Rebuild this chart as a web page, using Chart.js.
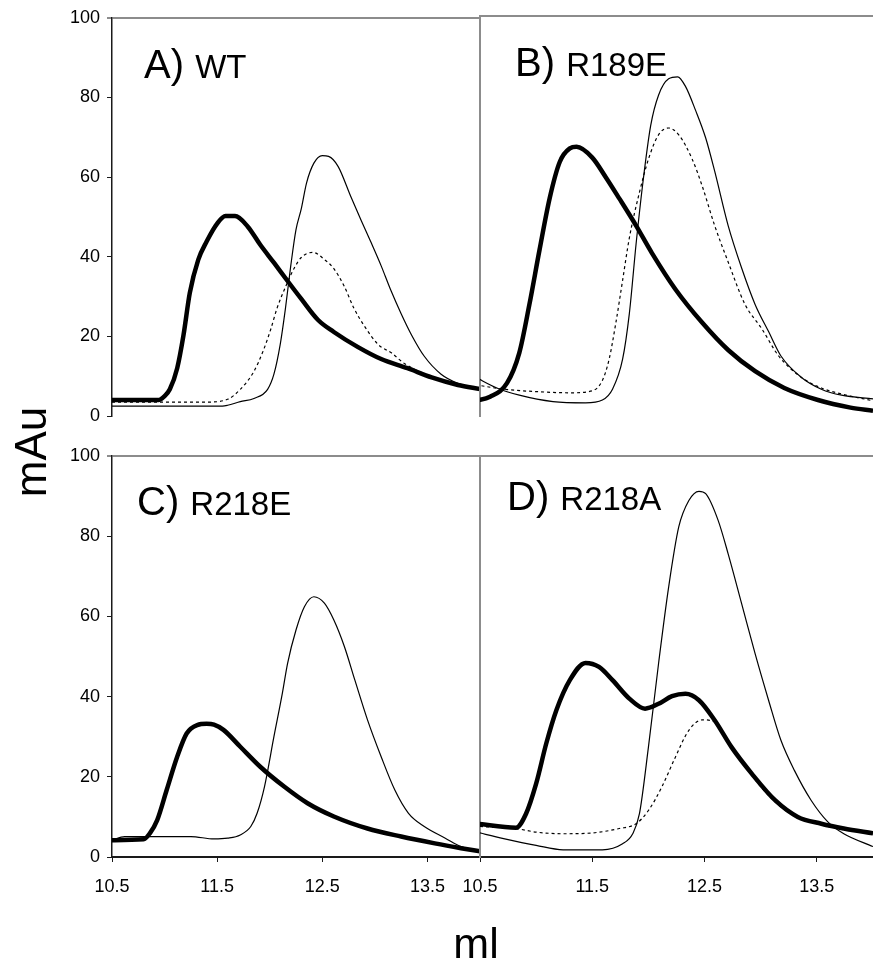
<!DOCTYPE html>
<html>
<head>
<title>Elution profiles</title>
<script src="https://cdn.jsdelivr.net/npm/chart.js"></script>
<style>
    body { margin: 0; background: #fff; }
    #wrap { position: relative; width: 873px; height: 961px; font-family: "Liberation Sans", Arial, sans-serif; }
    #wrap canvas { position: absolute; left: 0; top: 0; }
    .panelTitle { position: absolute; font-size: 40px; line-height: 40px; white-space: nowrap; color: #000; }
    .panelTitle span { font-size: 33px; }
    #yTitle { position: absolute; left: 31px; top: 452px; width: 120px; height: 44px; line-height: 44px;
              font-size: 44px; text-align: center; transform: translate(-50%, -50%) rotate(-90deg); }
    #xTitle { position: absolute; left: 376px; top: 922px; width: 200px; line-height: 43px;
              font-size: 43px; text-align: center; }
</style>
</head>
<body>
<div id="wrap">
    <canvas id="panelA" width="873" height="961"></canvas>
    <canvas id="panelB" width="873" height="961"></canvas>
    <canvas id="panelC" width="873" height="961"></canvas>
    <canvas id="panelD" width="873" height="961"></canvas>
    <div class="panelTitle" style="left:144px;top:44px">A) <span>WT</span></div>
    <div class="panelTitle" style="left:515px;top:42px">B) <span>R189E</span></div>
    <div class="panelTitle" style="left:137px;top:481px">C) <span>R218E</span></div>
    <div class="panelTitle" style="left:507px;top:476px">D) <span>R218A</span></div>
    <div id="yTitle">mAu</div>
    <div id="xTitle">ml</div>
</div>
<script>
    // axis ticks
    const xTicks = [10.5, 11.5, 12.5, 13.5];
    const yTicks = [0, 20, 40, 60, 80, 100];

    // A) WT  -- [ml, mAu]
    const wtThick = [[10.5,4.0],[10.94,4.0],[11.0,5.0],[11.05,6.7],[11.12,12],[11.18,20.3],[11.24,30.9],[11.32,39.2],
        [11.40,43.8],[11.50,48.3],[11.58,50.2],[11.67,50.2],[11.79,47.6],[11.91,43],[12.04,38.5],[12.17,33.9],[12.30,29.4],
        [12.46,24.1],[12.61,21.1],[12.84,17.3],[13.06,14.3],[13.31,12],[13.54,9.7],[13.79,7.8],[14.0,6.8]];
    const wtThin = [[10.5,2.5],[11.55,2.5],[11.60,2.7],[11.72,3.6],[11.85,4.4],[11.98,6.7],[12.04,10.5],[12.10,18],
        [12.15,27.1],[12.20,37.7],[12.25,46.8],[12.30,52],[12.35,58.5],[12.42,63.5],[12.50,65.4],[12.56,65.2],[12.65,62.7],
        [12.77,55.2],[12.87,49.1],[12.96,43.8],[13.06,37.7],[13.15,31.7],[13.25,25.7],[13.35,20.3],[13.47,15],[13.63,10.5],
        [13.79,8.2],[14.0,6.7]];
    const wtDotted = [[10.5,3.5],[11.40,3.5],[11.60,4.2],[11.72,6.7],[11.85,11.2],[11.94,16.5],[12.01,21.8],[12.07,27.1],
        [12.15,32.4],[12.23,37],[12.30,39.8],[12.41,41.1],[12.52,39.3],[12.61,37],[12.71,32.5],[12.80,27.1],[12.90,22.6],
        [13.03,18],[13.16,15.8],[13.28,13.2],[13.54,9.9],[13.79,7.9],[14.0,6.8]];

    // B) R189E
    const r189eThick = [[10.46,3.8],[10.59,4.8],[10.74,8.2],[10.85,15.8],[10.94,27.9],[11.03,41.5],[11.12,54.4],[11.21,63.5],
        [11.30,66.9],[11.36,67.3],[11.50,64.6],[11.62,59.7],[11.74,54.4],[11.89,47.6],[12.03,40.8],[12.24,31.7],[12.48,23.3],
        [12.71,16.5],[12.95,11.2],[13.21,7.0],[13.51,4.0],[13.80,2.1],[14.0,1.3]];
    const r189eThin = [[10.46,9.7],[10.65,7.0],[10.85,5.2],[11.15,3.6],[11.44,3.3],[11.59,4.0],[11.68,6.7],[11.77,14.2],
        [11.83,25.6],[11.89,43],[11.95,58.2],[12.02,72.6],[12.09,80.2],[12.18,84.3],[12.26,84.8],[12.33,82.4],[12.42,76.4],
        [12.51,69.5],[12.59,61.2],[12.71,47.6],[12.83,37],[12.95,27.9],[13.07,21.1],[13.18,15],[13.36,9.7],[13.54,6.7],
        [13.72,5.2],[14.0,4.3]];
    const r189eDotted = [[10.46,7.8],[10.71,6.7],[11.0,6.1],[11.30,5.8],[11.50,6.3],[11.59,8.9],[11.65,14.2],[11.71,23.3],
        [11.77,33.9],[11.83,44.5],[11.92,55.9],[12.0,64.2],[12.09,70.3],[12.18,72],[12.27,70.3],[12.39,64.2],[12.48,57.4],
        [12.59,47.6],[12.71,38.5],[12.86,27.9],[13.01,21.8],[13.16,15],[13.36,9.7],[13.54,7.0],[13.72,5.5],[14.0,3.8]];

    // C) R218E
    const r218eThick = [[10.5,4.2],[10.80,4.4],[10.86,5.9],[10.93,9.2],[11.02,16.7],[11.12,25],[11.21,30.8],[11.31,32.9],
        [11.40,33.2],[11.47,33],[11.56,31.7],[11.72,27.5],[11.91,22.5],[12.14,17.5],[12.36,13.4],[12.61,10.1],[12.93,7.1],
        [13.25,5.1],[13.57,3.4],[13.82,2.2],[14.0,1.4]];
    const r218eThin = [[10.5,4.2],[10.62,5.1],[11.25,5.1],[11.47,4.5],[11.60,4.7],[11.72,5.5],[11.82,7.6],[11.88,10.9],
        [11.95,17.5],[12.04,30],[12.12,40.8],[12.17,48.3],[12.25,56.6],[12.33,62.4],[12.42,64.9],[12.52,63.3],[12.61,59.1],
        [12.71,52.5],[12.81,44.1],[12.93,34.2],[13.06,25],[13.19,16.7],[13.32,10.9],[13.47,7.6],[13.67,4.7],[13.82,2.6],[14.0,1.4]];

    // D) R218A
    const r218aThick = [[10.47,8.3],[10.82,7.3],[10.91,10.8],[11.0,18.3],[11.09,28.3],[11.18,36.6],[11.30,44.1],[11.44,48.4],
        [11.56,47.4],[11.68,44.1],[11.83,39.5],[11.97,37],[12.09,38.2],[12.21,40.1],[12.33,40.7],[12.45,39.1],[12.59,34.1],
        [12.74,27.4],[12.92,20.8],[13.13,14.1],[13.33,10],[13.54,8.3],[13.74,7.1],[14.0,5.9]];
    const r218aThin = [[10.47,6.2],[10.71,4.6],[11.0,2.9],[11.24,1.8],[11.59,1.8],[11.77,3.3],[11.86,5.8],[11.92,10.8],
        [12.0,27.4],[12.09,48.2],[12.18,67.3],[12.27,82.3],[12.36,88.9],[12.45,91.2],[12.51,90.6],[12.62,84],[12.71,75.6],
        [12.83,63.2],[12.95,50.7],[13.07,39.1],[13.18,29.1],[13.30,21.6],[13.45,14.1],[13.60,8.7],[13.74,5.8],[14.0,2.6]];
    const r218aDotted = [[10.5,7.6],[10.82,7.1],[11.0,6.2],[11.24,5.8],[11.50,6.0],[11.74,7.1],[11.89,8.3],[12.0,11.6],
        [12.12,17.5],[12.24,24.9],[12.36,31.6],[12.48,34.2],[12.59,33.7],[12.71,28.6],[12.86,22.8],[13.01,17.2],[13.18,12.5],
        [13.36,9.5],[13.54,8.0],[13.74,6.8],[14.0,5.7]];

    const gray = '#8c8c8c';
    const dark = '#1a1a1a';
    const tickFont = { family: "'Liberation Sans', Arial, sans-serif", size: 18 };

    function line(points, kind){
        return {
            data: points.map(p => ({ x: p[0], y: p[1] })),
            borderColor: '#000',
            borderWidth: kind === 'thick' ? 4.5 : 1.2,
            borderDash: kind === 'dotted' ? [3, 3] : [],
            pointRadius: 0,
            cubicInterpolationMode: 'monotone',
            fill: false
        };
    }

    // one chart per panel, all stacked on the same 873x961 area
    function makePanel(id, datasets, isLeft, isTop){
        const padding = {
            left: isLeft ? 0 : 480,
            right: isLeft ? 393 : 0,
            top: isTop ? 16 : 456,
            bottom: isTop ? 505 : 64
        };
        new Chart(document.getElementById(id), {
            type: 'line',
            data: { datasets },
            options: {
                responsive: false,
                animation: false,
                events: [],
                layout: { padding },
                plugins: { legend: { display: false }, tooltip: { enabled: false } },
                scales: {
                    x: {
                        type: 'linear',
                        min: 10.5,
                        max: 14,
                        display: !isTop,
                        afterBuildTicks: s => { s.ticks = xTicks.map(v => ({ value: v })); },
                        afterFit: s => { s.height = 40; },
                        ticks: { font: tickFont, color: '#000', padding: 14, maxRotation: 0, autoSkip: false,
                                 callback: v => v.toFixed(1) },
                        grid: { drawOnChartArea: false, tickLength: 5, color: dark, tickWidth: 1 },
                        border: { color: dark, width: 2 }
                    },
                    y: {
                        type: 'linear',
                        min: 0,
                        max: 100,
                        afterBuildTicks: s => { s.ticks = yTicks.map(v => ({ value: v })); },
                        afterFit: s => { s.width = isLeft ? 112 : 0; },
                        ticks: { display: isLeft, font: tickFont, color: '#000', padding: 7, callback: v => String(v) },
                        grid: {
                            drawTicks: isLeft,
                            tickLength: 5,
                            color: ctx => (ctx.tick && ctx.tick.value === 100) ? gray : 'rgba(0,0,0,0)',
                            lineWidth: ctx => (ctx.tick && ctx.tick.value === 100) ? 2 : 1,
                            tickColor: dark,
                            tickWidth: 1
                        },
                        border: { color: isLeft ? dark : gray, width: isLeft ? 1.5 : 2 }
                    }
                }
            }
        });
    }

    makePanel('panelA', [line(wtThin, 'thin'), line(wtDotted, 'dotted'), line(wtThick, 'thick')], true, true);
    makePanel('panelB', [line(r189eThin, 'thin'), line(r189eDotted, 'dotted'), line(r189eThick, 'thick')], false, true);
    makePanel('panelC', [line(r218eThin, 'thin'), line(r218eThick, 'thick')], true, false);
    makePanel('panelD', [line(r218aThin, 'thin'), line(r218aDotted, 'dotted'), line(r218aThick, 'thick')], false, false);
</script>
</body>
</html>
